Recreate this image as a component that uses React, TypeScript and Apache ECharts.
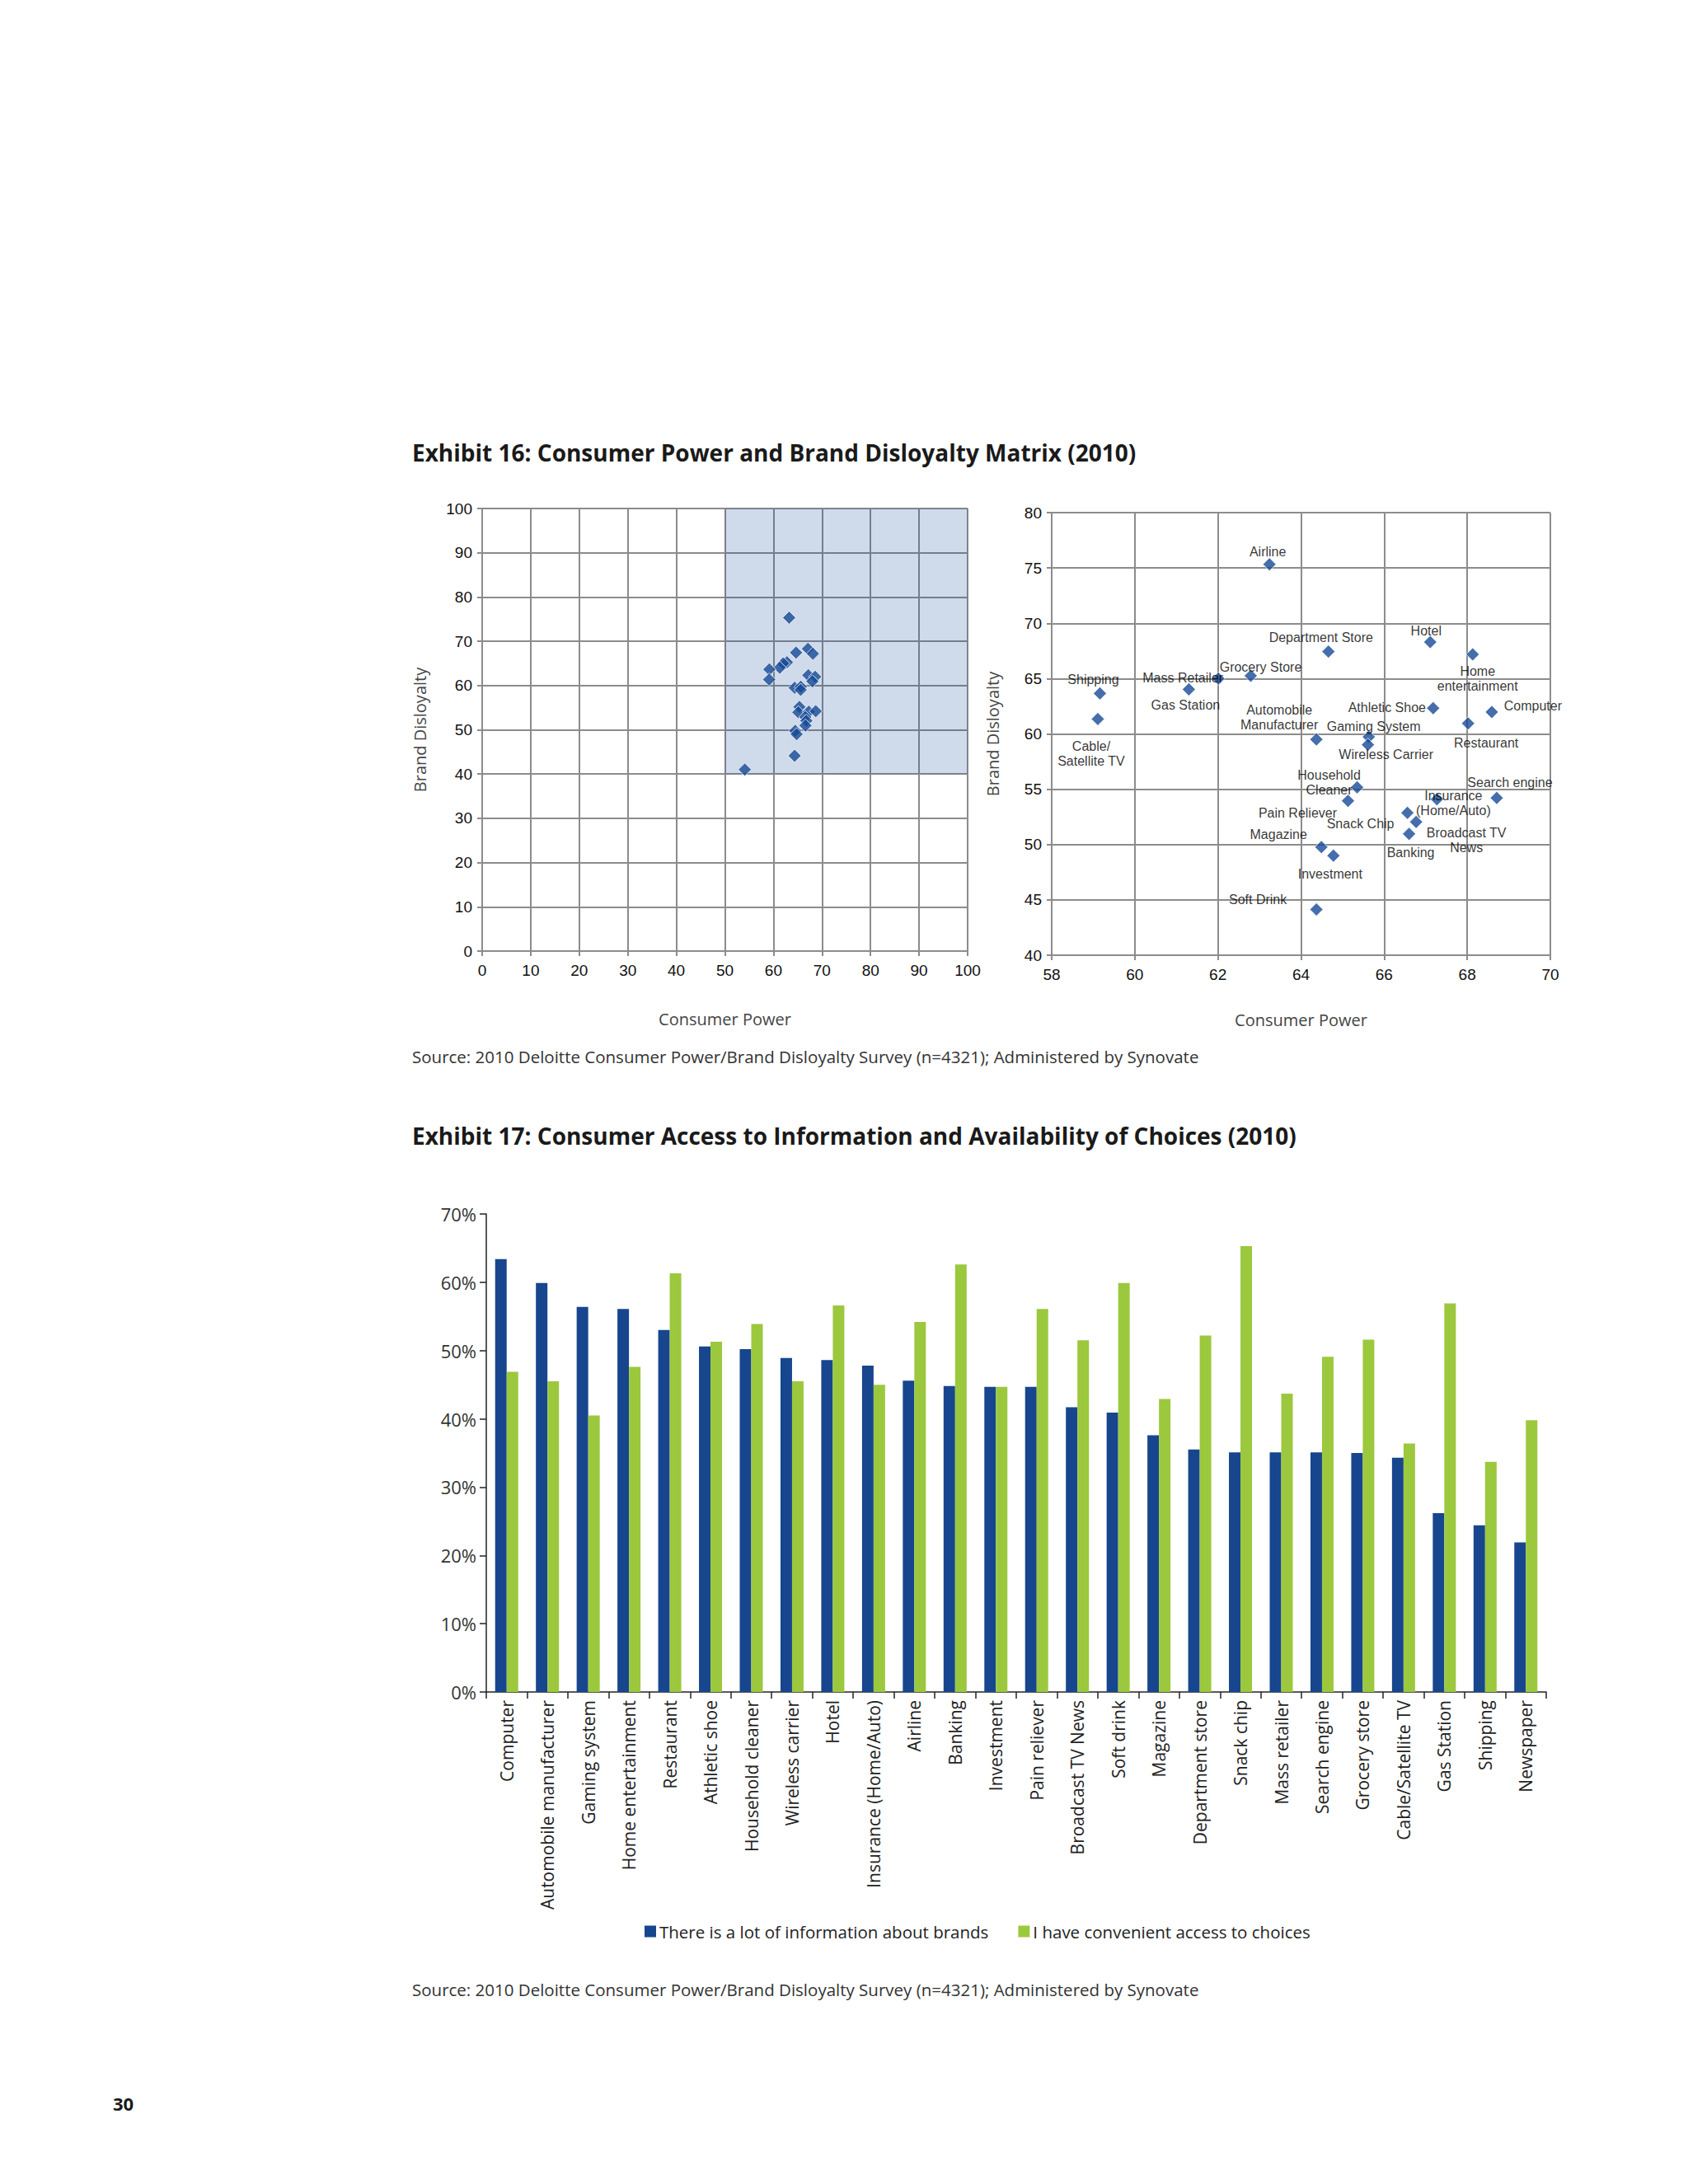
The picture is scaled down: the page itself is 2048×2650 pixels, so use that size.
import React, { useEffect, useRef } from "react";
import * as echarts from "echarts";

// ---------- Exhibit 16 data ----------
const scatterNames = [
  "Airline", "Department Store", "Hotel", "Home\nentertainment", "Grocery Store",
  "Mass Retailer", "Gas Station", "Shipping", "Cable/\nSatellite TV", "Athletic Shoe",
  "Computer", "Restaurant", "Automobile\nManufacturer", "Gaming System", "Wireless Carrier",
  "Household\nCleaner", "Pain Reliever", "Insurance\n(Home/Auto)", "Search engine", "Snack Chip",
  "Broadcast TV\nNews", "Banking", "Magazine", "Investment", "Soft Drink", "Newspaper",
];
const consumerPower = [
  63.24, 64.66, 67.11, 68.13, 62.79,
  62.01, 61.3, 59.16, 59.11, 67.18,
  68.59, 68.02, 64.37, 65.63, 65.61,
  65.35, 65.13, 67.27, 68.71, 66.56,
  66.77, 66.6, 64.49, 64.78, 64.37, 54.1,
];
const brandDisloyalty = [
  75.33, 67.44, 68.3, 67.19, 65.25,
  65.0, 64.03, 63.66, 61.35, 62.32,
  61.98, 60.95, 59.5, 59.73, 59.02,
  55.17, 53.95, 54.09, 54.21, 52.87,
  52.04, 50.96, 49.77, 49.0, 44.13, 41.0,
];
// label placement (px offset of label centre from the marker)
const labelOffsets: Record<string, [number, number]> = {
  "Airline": [-2, -15],
  "Department Store": [-9, -17],
  "Hotel": [-5, -14],
  "Home\nentertainment": [6, 30],
  "Grocery Store": [12, -11],
  "Mass Retailer": [-43, -1],
  "Gas Station": [-4, 19],
  "Shipping": [-8, -17],
  "Cable/\nSatellite TV": [-8, 42],
  "Athletic Shoe": [-56, -1],
  "Computer": [50, -7],
  "Restaurant": [22, 24],
  "Automobile\nManufacturer": [-45, -27],
  "Gaming System": [6, -13],
  "Wireless Carrier": [22, 12],
  "Household\nCleaner": [-34, -6],
  "Pain Reliever": [-61, 15],
  "Insurance\n(Home/Auto)": [20, 5],
  "Search engine": [16, -19],
  "Snack Chip": [-57, 13],
  "Broadcast TV\nNews": [61, 22],
  "Banking": [2, 23],
  "Magazine": [-52, -15],
  "Investment": [-4, 22],
  "Soft Drink": [-71, -12],
  "Newspaper": [0, 0],
};

// ---------- Exhibit 17 data ----------
const barCategories = [
  "Computer", "Automobile manufacturer", "Gaming system", "Home entertainment", "Restaurant",
  "Athletic shoe", "Household cleaner", "Wireless carrier", "Hotel", "Insurance (Home/Auto)",
  "Airline", "Banking", "Investment", "Pain reliever", "Broadcast TV News",
  "Soft drink", "Magazine", "Department store", "Snack chip", "Mass retailer",
  "Search engine", "Grocery store", "Cable/Satellite TV", "Gas Station", "Shipping", "Newspaper",
];
const infoAboutBrands = [
  63.4, 59.9, 56.4, 56.1, 53.0,
  50.6, 50.2, 48.9, 48.6, 47.8,
  45.6, 44.8, 44.7, 44.7, 41.7,
  40.9, 37.6, 35.5, 35.1, 35.1,
  35.1, 35.0, 34.3, 26.2, 24.4, 21.9,
];
const convenientAccess = [
  46.9, 45.5, 40.5, 47.6, 61.3,
  51.3, 53.9, 45.5, 56.6, 45.0,
  54.2, 62.6, 44.7, 56.1, 51.5,
  59.9, 42.9, 52.2, 65.3, 43.7,
  49.1, 51.6, 36.4, 56.9, 33.7, 39.8,
];
const seriesNames = ["There is a lot of information about brands", "I have convenient access to choices"];
const percentTicks = [0, 10, 20, 30, 40, 50, 60, 70];

const SANS = "'Open Sans', 'Noto Sans', sans-serif";
const ARIAL = "'Liberation Sans', Arial, sans-serif";
const GRID = "#8c8c8c";
const MARK = "#174a96";

export default function App() {
  const ref = useRef<HTMLDivElement>(null);
  useEffect(() => {
    if (!ref.current) return;
    const chart = echarts.init(ref.current, undefined, { renderer: "svg" });

    const points = scatterNames.map((n, i) => ({ name: n, value: [consumerPower[i], brandDisloyalty[i]] }));
    const rightPoints = points
      .filter((p) => p.value[0] >= 58)
      .map((p) => ({
        ...p,
        label: { offset: labelOffsets[p.name] || [0, 0] },
      }));

    const scatterAxisCommon = {
      axisLine: { show: true, lineStyle: { color: GRID, width: 2 } },
      axisTick: { show: true, length: 6, lineStyle: { color: GRID, width: 2 } },
      splitLine: { show: true, lineStyle: { color: GRID, width: 2 } },
      axisLabel: { color: "#111", fontFamily: ARIAL, fontSize: 19 },
      nameTextStyle: { color: "#444", fontFamily: SANS, fontSize: 20 },
    };

    const option: any = {
      animation: false,
      backgroundColor: "#fff",
      grid: [
        { left: 585, top: 617, width: 589, height: 537 },
        { left: 1276, top: 622, width: 605, height: 537 },
        { left: 590, top: 1473, width: 1286, height: 580 },
      ],
      xAxis: [
        {
          ...scatterAxisCommon, type: "value", gridIndex: 0, min: 0, max: 100, interval: 10,
          axisLabel: { ...scatterAxisCommon.axisLabel, margin: 14 },
          name: "Consumer Power", nameLocation: "middle", nameGap: 72,
        },
        {
          ...scatterAxisCommon, type: "value", gridIndex: 1, min: 58, max: 70, interval: 2,
          axisLabel: { ...scatterAxisCommon.axisLabel, margin: 14 },
          name: "Consumer Power", nameLocation: "middle", nameGap: 68,
        },
        {
          type: "category", gridIndex: 2, data: barCategories,
          axisLine: { show: true, lineStyle: { color: "#222", width: 1.5 } },
          axisTick: { show: true, length: 8, alignWithLabel: false, lineStyle: { color: "#222", width: 1.5 } },
          axisLabel: { interval: 0, rotate: 90, fontSize: 21, fontFamily: SANS, color: "#222", margin: 10 },
          splitLine: { show: false },
        },
      ],
      yAxis: [
        {
          ...scatterAxisCommon, type: "value", gridIndex: 0, min: 0, max: 100, interval: 10,
          axisLabel: { ...scatterAxisCommon.axisLabel, margin: 12 },
          name: "Brand Disloyalty", nameLocation: "middle", nameGap: 66,
        },
        {
          ...scatterAxisCommon, type: "value", gridIndex: 1, min: 40, max: 80, interval: 5,
          axisLabel: { ...scatterAxisCommon.axisLabel, margin: 12 },
          name: "Brand Disloyalty", nameLocation: "middle", nameGap: 62,
        },
        {
          type: "value", gridIndex: 2, min: percentTicks[0], max: percentTicks[percentTicks.length - 1], interval: 10,
          axisLine: { show: true, lineStyle: { color: "#222", width: 1.5 } },
          axisTick: { show: true, length: 8, lineStyle: { color: "#222", width: 1.5 } },
          axisLabel: { formatter: "{value}%", fontSize: 22, fontFamily: SANS, color: "#333", margin: 12 },
          splitLine: { show: false },
        },
      ],
      legend: {
        show: true,
        data: seriesNames,
        left: 777,
        top: 2328,
        icon: "rect",
        itemWidth: 14,
        itemHeight: 14,
        itemGap: 36,
        textStyle: { fontSize: 20.5, fontFamily: SANS, color: "#222", padding: [0, 0, 0, -1] },
      },
      series: [
        {
          type: "scatter",
          xAxisIndex: 0, yAxisIndex: 0,
          data: [],
          silent: true,
          markArea: {
            silent: true,
            itemStyle: { color: "rgb(15,70,150)", opacity: 0.2 },
            data: [[{ coord: [50, 40] }, { coord: [100, 100] }]],
          },
        },
        {
          type: "scatter",
          xAxisIndex: 0, yAxisIndex: 0,
          symbol: "diamond",
          symbolSize: 16,
          itemStyle: { color: MARK, borderColor: "#fff", borderWidth: 1 },
          data: points,
          z: 3,
        },
        {
          type: "scatter",
          xAxisIndex: 1, yAxisIndex: 1,
          symbol: "diamond",
          symbolSize: 16,
          itemStyle: { color: MARK, borderColor: "#fff", borderWidth: 1 },
          label: {
            show: true,
            position: "inside",
            formatter: "{b}",
            color: "#000",
            fontFamily: ARIAL,
            fontSize: 16,
            lineHeight: 18,
            align: "center",
            verticalAlign: "middle",
            textBorderWidth: 0,
          },
          data: rightPoints,
          z: 3,
        },
        {
          type: "bar",
          name: seriesNames[0],
          xAxisIndex: 2, yAxisIndex: 2,
          data: infoAboutBrands,
          barWidth: 14,
          barGap: "0%",
          itemStyle: { color: "#17468e" },
        },
        {
          type: "bar",
          name: seriesNames[1],
          xAxisIndex: 2, yAxisIndex: 2,
          data: convenientAccess,
          barWidth: 14,
          barGap: "0%",
          itemStyle: { color: "#9cc83e" },
        },
      ],
      graphic: [
        {
          type: "text", left: 500, top: 535,
          style: { text: "Exhibit 16: Consumer Power and Brand Disloyalty Matrix (2010)", fontFamily: SANS, fontWeight: "bold", fontSize: 28, fill: "#1a1a1a" },
        },
        {
          type: "text", left: 500, top: 1271,
          style: { text: "Source: 2010 Deloitte Consumer Power/Brand Disloyalty Survey (n=4321); Administered by Synovate", fontFamily: SANS, fontSize: 20.5, fill: "#333" },
        },
        {
          type: "text", left: 500, top: 1364,
          style: { text: "Exhibit 17: Consumer Access to Information and Availability of Choices (2010)", fontFamily: SANS, fontWeight: "bold", fontSize: 28, fill: "#1a1a1a" },
        },
        {
          type: "text", left: 500, top: 2403,
          style: { text: "Source: 2010 Deloitte Consumer Power/Brand Disloyalty Survey (n=4321); Administered by Synovate", fontFamily: SANS, fontSize: 20.5, fill: "#333" },
        },
        {
          type: "text", left: 137, top: 2541,
          style: { text: "30", fontFamily: SANS, fontWeight: "bold", fontSize: 22, fill: "#1a1a1a" },
        },
      ],
    };
    chart.setOption(option);
    return () => chart.dispose();
  }, []);
  return (
    <div
      ref={ref}
      style={{ position: "absolute", left: 0, top: 0, width: 2048, height: 2650, background: "#fff" }}
    />
  );
}
